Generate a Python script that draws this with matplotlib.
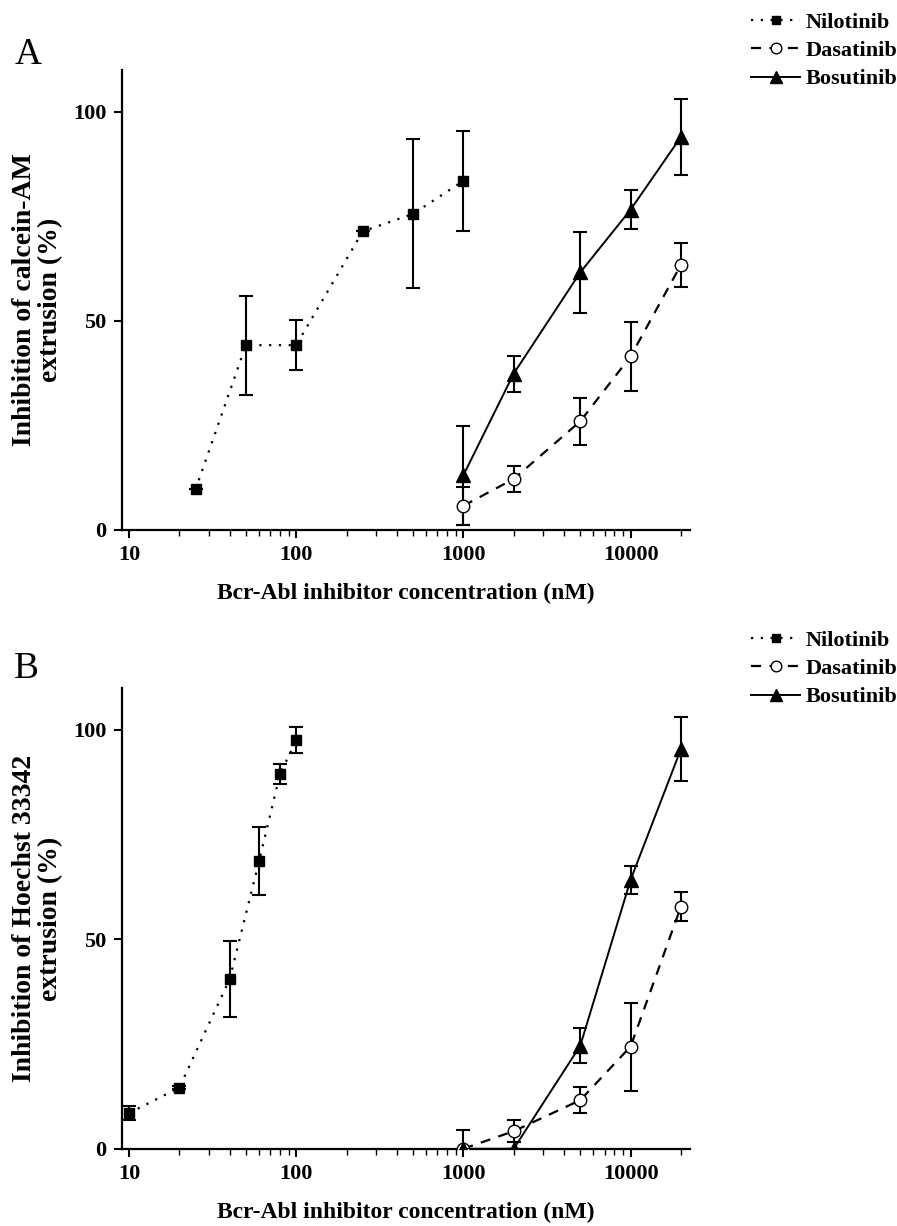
import matplotlib
matplotlib.use("Agg")
import matplotlib.pyplot as plt
from matplotlib.ticker import LogLocator, NullFormatter, FixedLocator
import numpy as np

# Panel A: calcein-AM extrusion
nilo_a_x = [25, 50, 100, 250, 500, 1000]
nilo_a_y = [9.7, 44.2, 44.2, 71.4, 75.6, 83.5]
nilo_a_err = [0.0, 11.8, 6.0, 0.0, 17.8, 12.0]

dasa_a_x = [1000, 2000, 5000, 10000, 20000]
dasa_a_y = [5.8, 12.2, 26.0, 41.5, 63.4]
dasa_a_err = [4.6, 3.2, 5.6, 8.3, 5.3]

bosu_a_x = [1000, 2000, 5000, 10000, 20000]
bosu_a_y = [13.1, 37.4, 61.6, 76.6, 94.0]
bosu_a_err = [11.8, 4.3, 9.7, 4.6, 9.0]

# Panel B: Hoechst 33342 extrusion
nilo_b_x = [10, 20, 40, 60, 80, 100]
nilo_b_y = [8.5, 14.6, 40.5, 68.7, 89.5, 97.5]
nilo_b_err = [1.6, 0.3, 9.0, 8.1, 2.3, 3.1]

dasa_b_x = [1000, 2000, 5000, 10000, 20000]
dasa_b_y = [0.0, 4.2, 11.6, 24.4, 57.8]
dasa_b_err = [4.4, 2.7, 3.1, 10.5, 3.5]

bosu_b_x = [1000, 2000, 5000, 10000, 20000]
bosu_b_y = [0.0, 0.0, 24.6, 64.2, 95.4]
bosu_b_err = [0.0, 0.0, 4.2, 3.4, 7.6]

names = ['Nilotinib', 'Dasatinib', 'Bosutinib']
ylabels = ['Inhibition of calcein-AM\nextrusion (%)',
           'Inhibition of Hoechst 33342\nextrusion (%)']
xlabel = 'Bcr-Abl inhibitor concentration (nM)'
panel_letters = ['A', 'B']

plt.rcParams['font.family'] = ['Liberation Serif', 'DejaVu Serif']
plt.rcParams['font.weight'] = 'bold'

fig = plt.figure(figsize=(8.97, 12.26), dpi=100)
ax_a = fig.add_axes([0.136, 0.5677, 0.633, 0.3752])
ax_b = fig.add_axes([0.136, 0.0630, 0.633, 0.3758])

styles = [
    dict(ls=(0, (1, 3.4)), lw=1.6, marker='s', ms=7.5, mfc='black', mec='black'),
    dict(ls=(0, (4.5, 3.8)), lw=1.6, marker='o', ms=9, mfc='white', mec='black', mew=1.0),
    dict(ls='-', lw=1.4, marker='^', ms=10, mfc='black', mec='black'),
]

panels = [
    (ax_a, [(nilo_a_x, nilo_a_y, nilo_a_err), (dasa_a_x, dasa_a_y, dasa_a_err),
            (bosu_a_x, bosu_a_y, bosu_a_err)]),
    (ax_b, [(nilo_b_x, nilo_b_y, nilo_b_err), (dasa_b_x, dasa_b_y, dasa_b_err),
            (bosu_b_x, bosu_b_y, bosu_b_err)]),
]

for i, (ax, series) in enumerate(panels):
    handles = []
    for (x, y, e), st, name in zip(series, styles, names):
        ax.errorbar(x, y, yerr=e, fmt='none', ecolor='black', elinewidth=1.5,
                    capsize=5, capthick=1.5, zorder=2)
        h, = ax.plot(x, y, color='black', label=name, zorder=3, **st)
        handles.append(h)

    ax.set_xscale('log')
    ax.set_xlim(9.08, 22600)
    ax.set_ylim(0, 110)
    ax.set_yticks([0, 50, 100])
    ax.xaxis.set_major_locator(FixedLocator([10, 100, 1000, 10000]))
    ax.set_xticklabels(['10', '100', '1000', '10000'])
    ax.xaxis.set_minor_locator(LogLocator(base=10, subs=np.arange(2, 10), numticks=20))
    ax.xaxis.set_minor_formatter(NullFormatter())

    for side in ['top', 'right']:
        ax.spines[side].set_visible(False)
    for side in ['left', 'bottom']:
        ax.spines[side].set_linewidth(1.6)
    ax.tick_params(axis='both', which='major', direction='out', length=6,
                   width=1.5, labelsize=16, pad=5)
    ax.tick_params(axis='x', which='minor', direction='out', length=4, width=1.0)

    ax.set_xlabel(xlabel, fontsize=17, fontweight='bold', labelpad=13)
    ax.set_ylabel(ylabels[i], fontsize=20, fontweight='bold', labelpad=7,
                  linespacing=1.1)

    ax.legend(handles=handles, loc='upper left', bbox_to_anchor=(1.093, 1.145),
              frameon=False, handlelength=2.2, handletextpad=0.25, markerscale=0.85,
              labelspacing=0.35, borderaxespad=0, prop={'weight': 'bold', 'size': 16})

fig.text(15 / 897, 1 - 64 / 1226, panel_letters[0], fontsize=27, fontweight='normal')
fig.text(14 / 897, 1 - 678 / 1226, panel_letters[1], fontsize=27, fontweight='normal')

fig.savefig('out.png', dpi=100)
